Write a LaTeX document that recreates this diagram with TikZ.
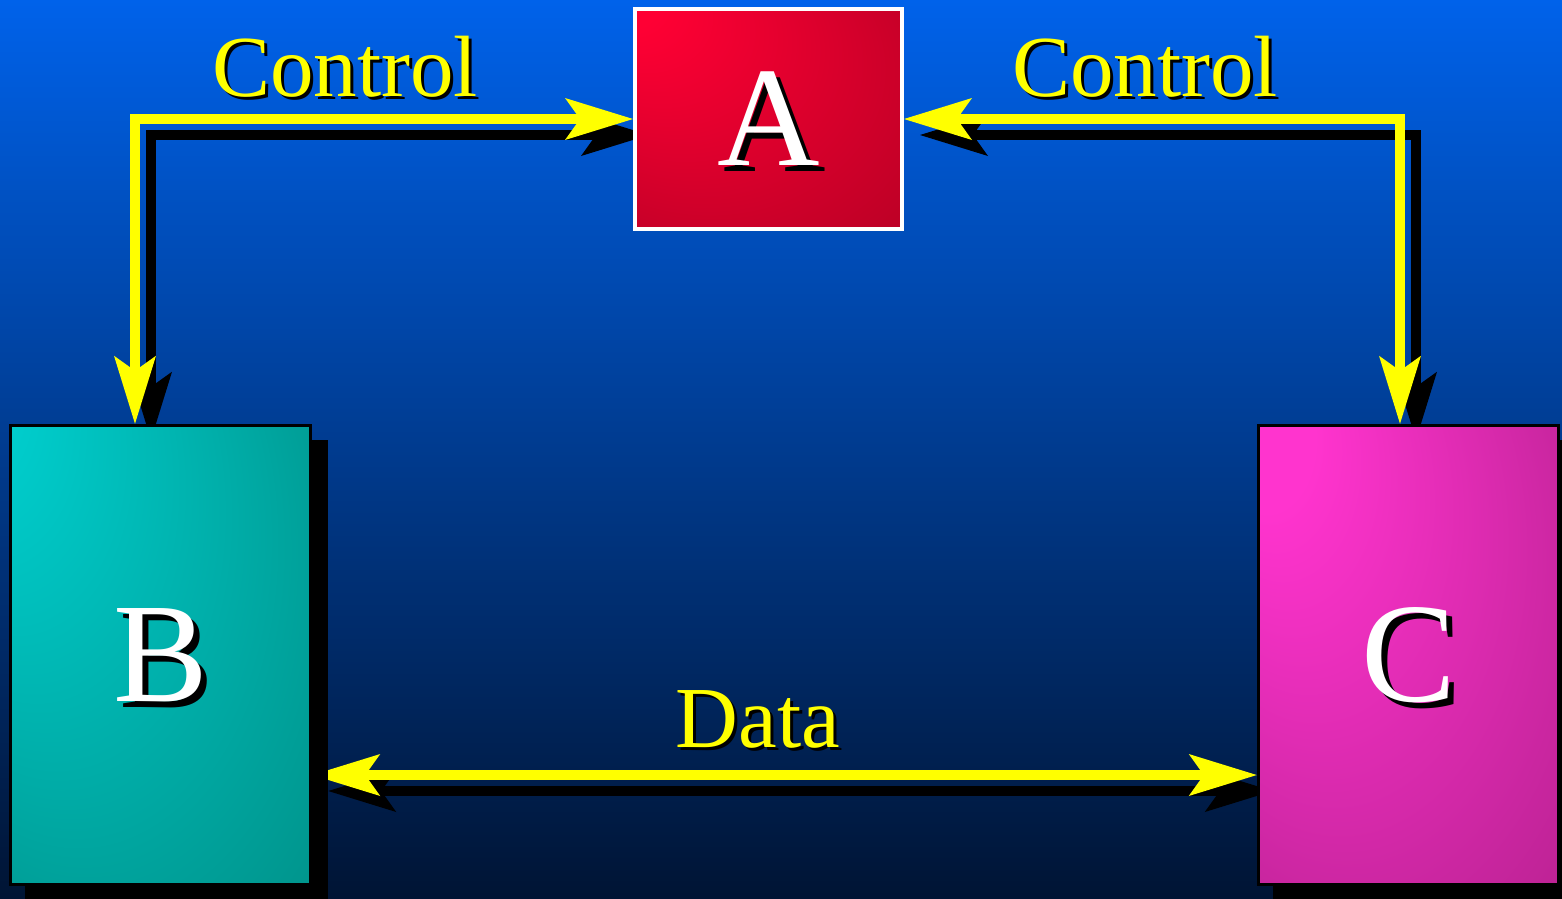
\documentclass[tikz,border=0pt]{standalone}
\usepackage{fontspec}
\setmainfont{Liberation Serif}
\usetikzlibrary{arrows.meta}

\definecolor{skyTop}{RGB}{0,98,234}
\definecolor{skyBottom}{RGB}{0,20,52}
\definecolor{redHi}{RGB}{255,0,52}
\definecolor{redLo}{RGB}{172,0,34}
\definecolor{tealHi}{RGB}{0,210,210}
\definecolor{tealLo}{RGB}{0,136,126}
\definecolor{pinkHi}{RGB}{255,52,206}
\definecolor{pinkLo}{RGB}{172,30,134}
\definecolor{signal}{RGB}{255,255,0}

% soft glow from the upper-left corner of each block
\pgfdeclareradialshading{glowRed}{\pgfpoint{-30bp}{30bp}}{color(0bp)=(redHi); color(6bp)=(redHi); color(52bp)=(redLo)}
\pgfdeclareradialshading{glowTeal}{\pgfpoint{-38bp}{34bp}}{color(0bp)=(tealHi); color(5bp)=(tealHi); color(52bp)=(tealLo)}
\pgfdeclareradialshading{glowPink}{\pgfpoint{-28bp}{28bp}}{color(0bp)=(pinkHi); color(8bp)=(pinkHi); color(52bp)=(pinkLo)}

\pgfdeclarelayer{backdrop}
\pgfdeclarelayer{links}
\pgfdeclarelayer{casts}
\pgfsetlayers{backdrop,links,casts,main}

% text with a black drop shadow behind it
\newcommand\shadowed[2]{\leavevmode\smash{\rlap{\kern#1\raisebox{-#1}{\color{black}#2}}}#2}

\begin{document}
\begin{tikzpicture}[x=1pt,y=-1pt,
  block/.style={rectangle, inner sep=0pt, text=white,
    font=\fontsize{142pt}{142pt}\selectfont},
  tag/.style={inner sep=0pt, anchor=base, text=signal,
    font=\fontsize{87pt}{87pt}\selectfont},
  link/.style={line width=10pt,
    {Stealth[length=68pt,width=42pt,inset=15pt,line width=0pt]}-{Stealth[length=68pt,width=42pt,inset=15pt,line width=0pt]}}]

\useasboundingbox (0,0) rectangle (1562,898);

\begin{pgfonlayer}{backdrop}
  \shade[top color=skyTop, bottom color=skyBottom] (0,0) rectangle (1562,898);
\end{pgfonlayer}

% the three blocks
\node[block, shading=glowRed, draw=white, line width=4pt,
      minimum width=267pt, minimum height=220pt] (A) at (768.5,119) {\shadowed{6pt}{A}};
\node[block, shading=glowTeal, draw=black, line width=3.5pt,
      minimum width=300pt, minimum height=459pt] (B) at (160.5,655) {\shadowed{6pt}{B}};
\node[block, shading=glowPink, draw=black, line width=3.5pt,
      minimum width=300pt, minimum height=459pt] (C) at (1408.5,655) {\shadowed{6pt}{C}};

% cast shadows of the lower blocks
\begin{pgfonlayer}{casts}
  \fill[black] ([shift={(16,16)}]B.north west) rectangle ([shift={(16,16)}]B.south east);
  \fill[black] ([shift={(16,16)}]C.north west) rectangle ([shift={(16,16)}]C.south east);
\end{pgfonlayer}

% connector bends and the data line height
\coordinate (tl) at (135,119);
\coordinate (tr) at (1400,119);
\coordinate (dline) at (0,775);

\begin{pgfonlayer}{links}
  \begin{scope}[transform canvas={shift={(16,16)}}]
    \draw[link, black] (A.west) -- (tl) -- (tl |- B.north);
    \draw[link, black] (A.east) -- (tr) -- (tr |- C.north);
    \draw[link, black] (B.east |- dline) -- (C.west |- dline);
  \end{scope}
  \draw[link, signal] (A.west) -- (tl) -- (tl |- B.north);
  \draw[link, signal] (A.east) -- (tr) -- (tr |- C.north);
  \draw[link, signal] (B.east |- dline) -- (C.west |- dline);
\end{pgfonlayer}

% labels
\node[tag] (ctlLeft) at (345,96) {\shadowed{3pt}{Control}};
\node[tag] (ctlRight) at (1145,96) {\shadowed{3pt}{Control}};
\node[tag] (dataTag) at (758,747) {\shadowed{3pt}{Data}};
\end{tikzpicture}
\end{document}
